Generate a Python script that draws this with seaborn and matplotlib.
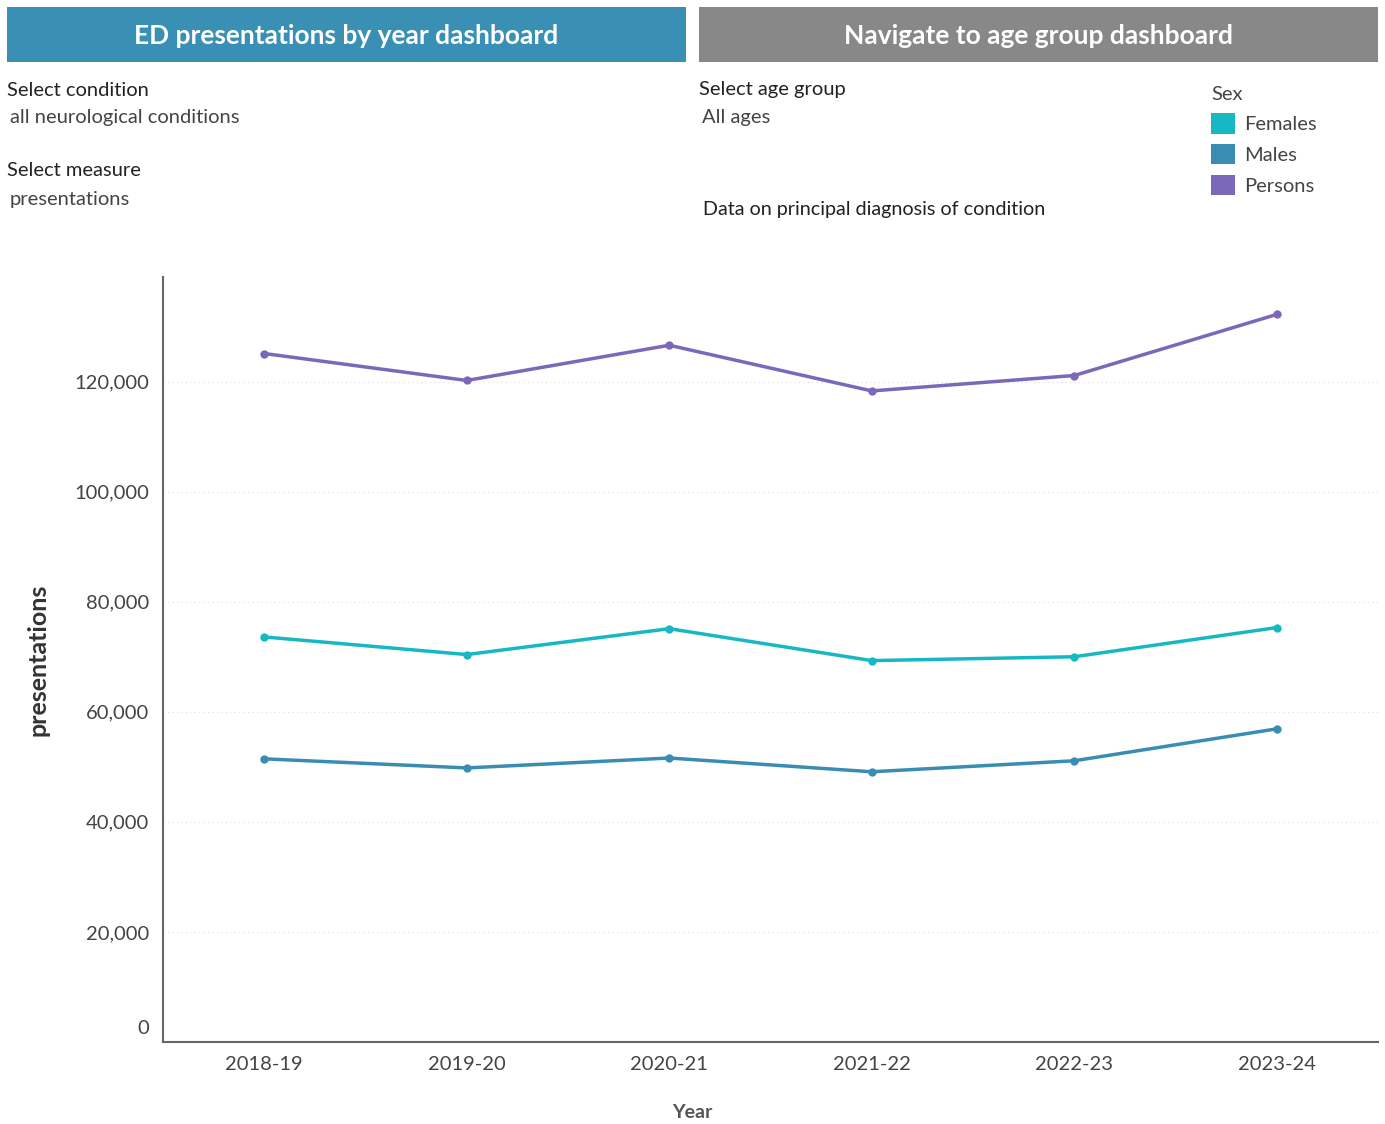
import pandas as pd
import seaborn as sns
import matplotlib.pyplot as plt
from matplotlib.patches import Patch, Rectangle
from matplotlib.ticker import FuncFormatter, MultipleLocator

# Data
years = ['2018-19', '2019-20', '2020-21', '2021-22', '2022-23', '2023-24']
females = [73600, 70400, 75100, 69300, 70000, 75300]
males = [51450, 49800, 51600, 49100, 51100, 56900]
persons = [125100, 120200, 126600, 118300, 121100, 132200]
sexes = ['Females', 'Males', 'Persons']
colors = ['#17B8C3', '#3A8DB2', '#7B68BA']

df = pd.DataFrame({
    'Year': years * 3,
    'presentations': females + males + persons,
    'Sex': ['Females'] * 6 + ['Males'] * 6 + ['Persons'] * 6,
})

sns.set_theme(style='white')
plt.rcParams['font.family'] = ['Lato', 'DejaVu Sans']

W, H = 1385, 1124
fig = plt.figure(figsize=(W / 100, H / 100), dpi=100)

def fx(px):
    return px / W

def fy(py):
    return 1 - py / H

# Header buttons
fig.add_artist(Rectangle((fx(7), fy(62)), fx(686) - fx(7), (62 - 7) / H,
                         transform=fig.transFigure, color='#3A8FB5', lw=0))
fig.add_artist(Rectangle((fx(699), fy(62)), fx(1378) - fx(699), (62 - 7) / H,
                         transform=fig.transFigure, color='#888888', lw=0))
fig.text(fx(346), fy(36), 'ED presentations by year dashboard', color='white',
         fontsize=19, fontweight='bold', ha='center', va='center')
fig.text(fx(1038), fy(36), 'Navigate to age group dashboard', color='white',
         fontsize=19, fontweight='bold', ha='center', va='center')

# Filter labels
lab = dict(fontsize=14.5, color='#222222', va='center')
val = dict(fontsize=14.5, color='#444444', va='center')
fig.text(fx(7), fy(90), 'Select condition', **lab)
fig.text(fx(10), fy(118), 'all neurological conditions', **val)
fig.text(fx(7), fy(171), 'Select measure', **lab)
fig.text(fx(10), fy(199), 'presentations', **val)
fig.text(fx(699), fy(90), 'Select age group', **lab)
fig.text(fx(702), fy(118), 'All ages', **val)
fig.text(fx(703), fy(209), 'Data on principal diagnosis of condition', fontsize=14.2,
         color='#222222', va='center')

# Main chart
ax = fig.add_axes([fx(163), 82 / H, fx(1378) - fx(163), (1042 - 277) / H])
sns.lineplot(data=df, x='Year', y='presentations', hue='Sex', hue_order=sexes,
             palette=colors, marker='o', markersize=6, markeredgewidth=0,
             linewidth=2.5, ax=ax, legend=False, sort=False)

ax.set_xlim(-0.5, len(years) - 0.5)
ax.set_ylim(0, 139000)
ax.yaxis.set_major_locator(MultipleLocator(20000))
# zero is drawn separately, a little above the baseline as in the dashboard
ax.yaxis.set_major_formatter(FuncFormatter(lambda v, p: f'{int(v):,}' if v > 0 else ''))
ax.annotate('0', xy=(0, 0), xycoords=('axes fraction', 'data'), xytext=(-10, 10),
            textcoords='offset points', ha='right', va='center',
            fontsize=14.5, color='#444444')
ax.grid(axis='y', color='#dddddd', linestyle=(0, (1, 3)), linewidth=0.8)
ax.set_axisbelow(True)

for s in ['top', 'right']:
    ax.spines[s].set_visible(False)
for s in ['left', 'bottom']:
    ax.spines[s].set_color('#666666')
    ax.spines[s].set_linewidth(1.5)

ax.tick_params(axis='both', labelsize=14.5, labelcolor='#444444', length=0, pad=10)
ax.set_xticks(range(len(years)))
ax.set_xticks([i - 0.5 for i in range(len(years) + 1)], minor=True)
ax.tick_params(axis='x', which='minor', length=8, color='#eeeeee', width=1)

ax.set_ylabel('presentations', fontsize=18, fontweight='bold', color='#333333', labelpad=18)
ax.set_xlabel('')
fig.text(fx(692), fy(1113), 'Year', fontsize=14, fontweight='bold', color='#555555',
         ha='center', va='center')

# Legend
handles = [Patch(facecolor=c, edgecolor='none', label=s) for s, c in zip(sexes, colors)]
leg = fig.legend(handles=handles, title='Sex', loc='upper left',
                 bbox_to_anchor=(fx(1203), fy(78)), frameon=False, fontsize=14.5,
                 title_fontsize=14.5, handlelength=1.2, handleheight=1.2,
                 labelspacing=0.5, handletextpad=0.45, borderaxespad=0)
leg._legend_box.align = 'left'
for t in leg.get_texts():
    t.set_color('#444444')
leg.get_title().set_color('#444444')

fig.savefig('out.png', dpi=100, facecolor='white')
